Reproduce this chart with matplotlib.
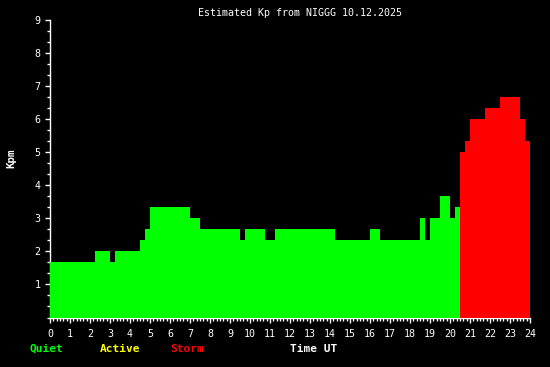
import matplotlib
matplotlib.use("Agg")
import matplotlib.pyplot as plt
from matplotlib.ticker import MultipleLocator, FixedLocator
import numpy as np

# Data: start hour of each step and the Kp value for that step
start_hours = [0, 2.25, 3.0, 3.25, 4.5, 4.75, 5.0, 7.0, 7.5, 9.5, 9.75, 10.75,
               11.25, 14.25, 16.0, 16.5, 18.5, 18.75, 19.0, 19.5, 20.0, 20.25,
               20.5, 20.75, 21.0, 21.75, 22.5, 23.5, 23.75]
end_hour = 24.0
kp_values = [1.67, 2.0, 1.67, 2.0, 2.33, 2.67, 3.33, 3.0, 2.67, 2.33, 2.67, 2.33,
             2.67, 2.33, 2.67, 2.33, 3.0, 2.33, 3.0, 3.67, 3.0, 3.33,
             5.0, 5.33, 6.0, 6.33, 6.67, 6.0, 5.33]
hour_labels = [str(h) for h in range(25)]
kp_tick_labels = [str(k) for k in range(1, 10)]
title = "Estimated Kp from NIGGG 10.12.2025"

GREEN = "#00ff00"
YELLOW = "#ffff00"
RED = "#ff0000"
MONO = "DejaVu Sans Mono"


def level_color(v):
    if v >= 5:
        return RED
    if v >= 4:
        return YELLOW
    return GREEN


edges = list(start_hours) + [end_hour]
widths = np.diff(edges)
colors = [level_color(v) for v in kp_values]

fig = plt.figure(figsize=(5.5, 3.67), dpi=100, facecolor="black")
ax = fig.add_axes([50 / 550, (367 - 317.5) / 367, 480 / 550, 297.5 / 367])
ax.set_facecolor("black")

ax.bar(start_hours, kp_values, width=widths, align="edge", color=colors,
       linewidth=0, zorder=3)

ax.set_xlim(0, 24)
ax.set_ylim(0, 9)

for s in ["top", "right"]:
    ax.spines[s].set_visible(False)
for s in ["left", "bottom"]:
    ax.spines[s].set_color("white")
    ax.spines[s].set_linewidth(1.0)

ax.xaxis.set_major_locator(FixedLocator(range(25)))
ax.set_xticklabels(hour_labels)
ax.xaxis.set_minor_locator(MultipleLocator(1 / 6))
ax.yaxis.set_major_locator(FixedLocator(range(1, 10)))
ax.set_yticklabels(kp_tick_labels)
ax.yaxis.set_minor_locator(MultipleLocator(1 / 3))

ax.tick_params(axis="both", which="major", colors="white", length=3.4, width=1,
               labelsize=7.2, direction="out")
ax.tick_params(axis="both", which="minor", colors="white", length=2.2, width=1,
               direction="out")
ax.tick_params(axis="x", which="major", pad=5)
ax.tick_params(axis="y", which="major", pad=3.5)
for lab in ax.get_xticklabels() + ax.get_yticklabels():
    lab.set_family(MONO)

fig.text(299.5 / 550, 1 - 12.5 / 367, title, color="white", family=MONO,
         fontsize=7.2, ha="center", va="center")

fig.text(11.7 / 550, 1 - 158 / 367, "Kpm", color="white", family=MONO,
         fontsize=7.8, fontweight="bold", rotation=90, ha="center", va="center")

legend_items = [("Quiet", GREEN, 29.5), ("Active", YELLOW, 100), ("Storm", RED, 170),
                ("Time UT", "white", 290)]
for txt, col, xpx in legend_items:
    fig.text(xpx / 550, 1 - 349 / 367, txt, color=col, family=MONO,
             fontsize=8.0, fontweight="bold", ha="left", va="center")

fig.savefig("out.png", dpi=100, facecolor="black")
